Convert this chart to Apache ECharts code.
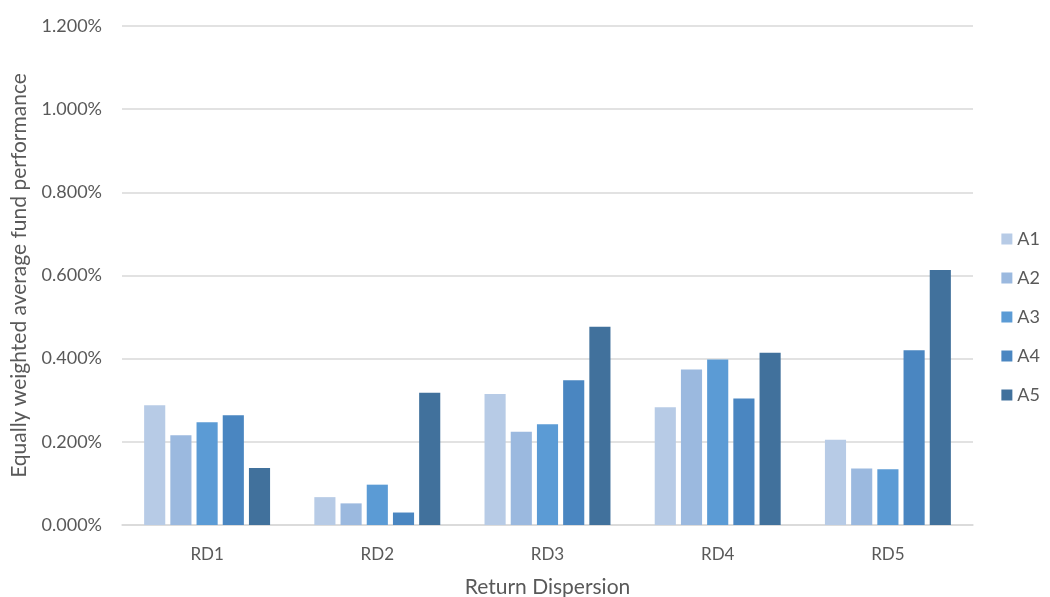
<!DOCTYPE html>
<html>
<head>
<meta charset="utf-8">
<script src="https://cdn.jsdelivr.net/npm/echarts@6/dist/echarts.min.js"></script>
<style>html,body{margin:0;padding:0;background:#fff;}#c{width:1050px;height:597px;}</style>
</head>
<body>
<div id="c"></div>
<script>
const categories = ['RD1', 'RD2', 'RD3', 'RD4', 'RD5'];
const seriesNames = ['A1', 'A2', 'A3', 'A4', 'A5'];
const A1 = [0.288, 0.067, 0.315, 0.283, 0.205];
const A2 = [0.216, 0.052, 0.224, 0.374, 0.136];
const A3 = [0.247, 0.097, 0.242, 0.398, 0.134];
const A4 = [0.264, 0.030, 0.348, 0.304, 0.420];
const A5 = [0.137, 0.318, 0.477, 0.414, 0.613];
const yTicks = [0, 0.2, 0.4, 0.6, 0.8, 1.0, 1.2];
const colors = ['#b7cbe6', '#9bb9df', '#5b9bd5', '#4a86c1', '#41719c'];

const values = [A1, A2, A3, A4, A5];
const font = 'Lato, "Open Sans", sans-serif';
const chart = echarts.init(document.getElementById('c'));
chart.setOption({
  animation: false,
  textStyle: { fontFamily: font },
  grid: { left: 122, right: 77, top: 26, bottom: 72, containLabel: false, outerBoundsMode: 'none' },
  legend: {
    orient: 'vertical', right: 5, top: 225,
    itemWidth: 11, itemHeight: 11, itemGap: 21,
    icon: 'rect',
    textStyle: { fontSize: 18, color: '#595959', fontFamily: font },
    data: seriesNames
  },
  xAxis: {
    type: 'category', data: categories,
    axisLine: { lineStyle: { color: '#d9d9d9', width: 1.5 } },
    axisTick: { show: false },
    axisLabel: { fontSize: 17, color: '#595959', margin: 21 },
    name: 'Return Dispersion', nameLocation: 'middle', nameGap: 52,
    nameTextStyle: { fontSize: 21, color: '#595959' }
  },
  yAxis: {
    type: 'value', min: yTicks[0], max: yTicks[yTicks.length - 1], interval: 0.2,
    axisLine: { show: false }, axisTick: { show: false },
    splitLine: { lineStyle: { color: '#d9d9d9', width: 1.5 } },
    axisLabel: { fontSize: 18, color: '#595959', margin: 20, formatter: v => v.toFixed(3) + '%' },
    name: 'Equally weighted average fund performance', nameLocation: 'middle', nameGap: 92,
    nameTextStyle: { fontSize: 21, color: '#595959' }
  },
  series: seriesNames.map((n, i) => ({
    name: n, type: 'bar', data: values[i],
    itemStyle: { color: colors[i] },
    barGap: '24%', barCategoryGap: '26%'
  }))
});
</script>
</body>
</html>
